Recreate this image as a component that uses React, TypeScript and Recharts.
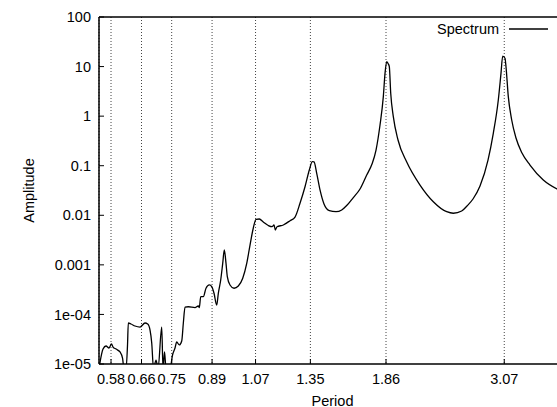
import { LineChart, Line, XAxis, YAxis, CartesianGrid, ReferenceLine, Legend } from "recharts"

const FONT = "'Liberation Sans', Arial, Helvetica, sans-serif"

// period (log x) and amplitude (log y)
const periods = [
  0.552, 0.5607, 0.5678, 0.5751, 0.5812, 0.585, 0.5925, 0.6026, 0.609, 0.6129,
  0.6181, 0.622, 0.6241, 0.6313, 0.6421, 0.6559, 0.6699, 0.6776, 0.6843, 0.6892,
  0.6945, 0.7019, 0.7079, 0.719, 0.723, 0.7276, 0.7323, 0.7448, 0.7527, 0.7607,
  0.7662, 0.7747, 0.7826, 0.788, 0.7937, 0.8048, 0.828, 0.8396, 0.8432, 0.8482,
  0.8576, 0.8674, 0.8797, 0.8887, 0.8974, 0.9077, 0.9139, 0.9232, 0.9311, 0.9374,
  0.9442, 0.9494, 0.9603, 0.9768, 0.9947, 1.0135, 1.0308, 1.0453, 1.06, 1.0722,
  1.0873, 1.1058, 1.1295, 1.1474, 1.1572, 1.1636, 1.172, 1.2037, 1.2384, 1.2649,
  1.2919, 1.3196, 1.3439, 1.3611, 1.3709, 1.3867, 1.4062, 1.4302, 1.4627, 1.5049,
  1.5416, 1.5746, 1.6193, 1.666, 1.714, 1.7528, 1.7829, 1.8133, 1.8389, 1.8522,
  1.8656, 1.8783, 1.8862, 1.8975, 1.9185, 1.9571, 2.0307, 2.1483, 2.2729, 2.4056,
  2.4737, 2.5633, 2.6216, 2.6891, 2.7701, 2.8656, 2.9306, 2.9934, 3.0277, 3.0496,
  3.0796, 3.0926, 3.123, 3.1683, 3.2265, 3.3095, 3.4236, 3.6222, 3.8385, 3.99,
]

const amplitudes = [
  9e-6, 2.0e-5, 2.31e-5, 2.1e-5, 2.53e-5, 2.2e-5, 2.0e-5, 1.75e-5, 1.32e-5, 8e-6,
  8e-6, 2.42e-5, 6.71e-5, 6.41e-5, 5.84e-5, 5.57e-5, 6.71e-5, 6.41e-5, 4.85e-5, 2.65e-5,
  8e-6, 1.2e-5, 8e-6, 5.57e-5, 8e-6, 1.75e-5, 8e-6, 8e-6, 1.52e-5, 2.1e-5,
  2.78e-5, 2.42e-5, 2.91e-5, 6.71e-5, 1.41e-4, 1.43e-4, 1.37e-4, 1.48e-4, 1.37e-4, 2.28e-4,
  2.28e-4, 3.37e-4, 3.93e-4, 3.62e-4, 2.67e-4, 1.55e-4, 2.67e-4, 4.95e-4, 1.07e-3, 2.0e-3,
  1.07e-3, 5.77e-4, 3.93e-4, 3.37e-4, 3.74e-4, 5.36e-4, 1.07e-3, 2.51e-3, 5.54e-3, 8.3e-3,
  8.41e-3, 7.31e-3, 6.22e-3, 5.88e-3, 6.37e-3, 5.05e-3, 5.88e-3, 6.37e-3, 7.78e-3, 9.23e-3,
  1.75e-2, 3.77e-2, 8.19e-2, 0.1205, 0.1189, 7.03e-2, 3.24e-2, 1.69e-2, 1.24e-2, 1.18e-2,
  1.28e-2, 1.57e-2, 2.28e-2, 3.39e-2, 6.5e-2, 0.108, 0.207, 0.662, 2.47, 7.31,
  12.5, 11.3, 9.94, 2.89, 0.975, 0.33, 0.119, 4.08e-2, 1.88e-2, 1.18e-2,
  1.1e-2, 1.22e-2, 1.54e-2, 2.13e-2, 3.9e-2, 0.13, 0.451, 2.12, 7.31, 16.3,
  14.7, 9.94, 2.47, 0.836, 0.362, 0.18, 0.103, 5.15e-2, 3.39e-2, 2.8e-2,
]

const periodTicks = [0.58, 0.66, 0.75, 0.89, 1.07, 1.35, 1.86, 3.07]
const amplitudeTicks = [1e-5, 1e-4, 1e-3, 0.01, 0.1, 1, 10, 100]
const amplitudeTickLabels = ["1e-05", "1e-04", "0.001", "0.01", "0.1", "1", "10", "100"]

// minor log ticks 2..9 in each decade
const minorTicks: number[] = []
for (let d = 0; d < amplitudeTicks.length - 1; d++) {
  for (let m = 2; m <= 9; m++) minorTicks.push(amplitudeTicks[d] * m)
}

const data = periods.map((p, i) => ({ period: p, amp: amplitudes[i] }))

const yLabel = (v: number) => {
  const i = amplitudeTicks.findIndex((t) => Math.abs(Math.log10(t) - Math.log10(v)) < 1e-6)
  return i >= 0 ? amplitudeTickLabels[i] : String(v)
}

function KeyBox() {
  return (
    <div style={{ display: "flex", alignItems: "center", fontFamily: FONT, fontSize: 14.5, color: "#000", lineHeight: "18px", whiteSpace: "nowrap" }}>
      <span>Spectrum</span>
      <svg width={39} height={4} style={{ marginLeft: 10 }}>
        <line x1={0} y1={2} x2={39} y2={2} stroke="#000" strokeWidth={1.3} />
      </svg>
    </div>
  )
}

export default function App() {
  return (
    <div style={{ position: "absolute", left: 0, top: 0, width: 557, height: 407, overflow: "hidden", background: "#fff" }}>
      <LineChart width={566} height={407} data={data} margin={{ top: 17, right: 0, bottom: 0, left: 0 }} style={{ fontFamily: FONT }}>
        <CartesianGrid yAxisId="main" horizontal={false} stroke="#444" strokeDasharray="1 2" />
        <XAxis
          dataKey="period"
          type="number"
          scale="log"
          domain={[0.5512, 3.988]}
          allowDataOverflow
          ticks={periodTicks}
          interval={0}
          tickFormatter={(v) => String(v)}
          height={43}
          tickSize={-5}
          tickMargin={15}
          axisLine={{ stroke: "#000", strokeWidth: 1.5 }}
          tickLine={{ stroke: "#000" }}
          tick={{ fill: "#000", fontSize: 14.5, fontFamily: FONT }}
          label={{ value: "Period", position: "insideBottom", offset: 1.5, fill: "#000", fontSize: 14.5, fontFamily: FONT }}
        />
        <YAxis
          yAxisId="minor"
          type="number"
          scale="log"
          domain={[1e-5, 100]}
          allowDataOverflow
          ticks={minorTicks}
          interval={0}
          tick={false}
          tickSize={-3}
          width={0}
          axisLine={false}
          tickLine={{ stroke: "#000" }}
        />
        <YAxis
          yAxisId="main"
          type="number"
          scale="log"
          domain={[1e-5, 100]}
          allowDataOverflow
          ticks={amplitudeTicks}
          interval={0}
          tickFormatter={yLabel}
          width={99}
          tickSize={-5}
          tickMargin={13}
          axisLine={{ stroke: "#000", strokeWidth: 1.5 }}
          tickLine={{ stroke: "#000" }}
          tick={{ fill: "#000", fontSize: 14.5, fontFamily: FONT }}
          label={{ value: "Amplitude", angle: -90, position: "insideLeft", offset: 29, style: { textAnchor: "middle" }, fill: "#000", fontSize: 14.5, fontFamily: FONT }}
        />
        <ReferenceLine yAxisId="main" y={100} stroke="#000" strokeWidth={1.5} />
        <Legend
          layout="vertical"
          align="center"
          verticalAlign="middle"
          content={<KeyBox />}
          wrapperStyle={{ left: 437, top: 20, width: 125, height: 18 }}
        />
        <Line
          yAxisId="main"
          type="monotone"
          dataKey="amp"
          stroke="#000"
          strokeWidth={1.3}
          dot={false}
          activeDot={false}
          isAnimationActive={false}
        />
      </LineChart>
    </div>
  )
}
